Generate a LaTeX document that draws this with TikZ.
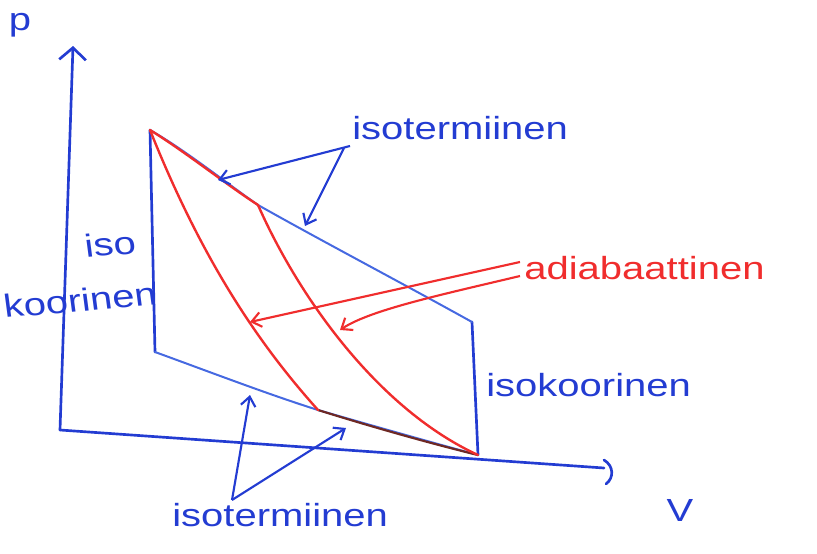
\documentclass[tikz,border=0pt]{standalone}
\usepackage{fontspec}
\setmainfont{Liberation Sans}
\usetikzlibrary{arrows.meta,calc}
\definecolor{pen}{RGB}{35,60,210}
\definecolor{penl}{RGB}{70,105,225}
\definecolor{redpen}{RGB}{240,45,45}
\definecolor{darkred}{RGB}{110,40,35}
\begin{document}
\begin{tikzpicture}[x=0.75pt,y=-0.75pt,
  axisline/.style={pen,line width=2pt,line cap=round},
  isoline/.style={penl,line width=1.5pt,line cap=round},
  adialine/.style={redpen,line width=1.8pt,line cap=round},
  lbl/.style={pen,inner sep=0pt,font=\fontsize{24}{24}\selectfont,xscale=1.25},
  rlbl/.style={lbl,redpen},
  barb/.style={-{Straight Barb[length=7pt,width=11pt,line width=1.6pt]}},
  bluearrow/.style={pen,line width=1.6pt,barb},
  redarrow/.style={redpen,line width=1.6pt,barb}]
\useasboundingbox (0,0) rectangle (817,553);
% key points
\coordinate (O) at (60,430);
\coordinate (Ytop) at (73,46);
\coordinate (Xend) at (604,468);
\coordinate (A) at (150,130);
\coordinate (B) at (258,205);
\coordinate (C) at (472,322);
\coordinate (D) at (478,455);
\coordinate (E) at (155,352);
\coordinate (F) at (318,410);
% axes
\draw[axisline,-{Straight Barb[length=9pt,width=20pt,line width=2pt]}] (O) -- (Ytop);
\draw[axisline] (O) -- (Xend);
\coordinate (Xa) at (604,460);
\coordinate (Xb) at (606,484);
\draw[axisline] (Xa) .. controls (614,466) and (614,478) .. (Xb);
\node[lbl] (plbl) at (20,25) {p};
\node[lbl] (vlbl) at (680,510) {V};
% isochores
\draw[axisline] (A) -- (E);
\draw[axisline] (C) -- (D);
% upper isotherm
\draw[isoline] (A) .. controls (185,150) and (225,182) .. (B);
\draw[isoline] (B) .. controls (320,240) and (400,282) .. (C);
\draw[adialine,yshift=-1.2pt] (A) .. controls (185,150) and (225,182) .. (B);
% lower isotherm
\draw[isoline] (E) .. controls (210,372) and (270,395) .. (F);
\draw[isoline] (F) .. controls (370,425) and (430,442) .. (D);
\draw[darkred,line width=1.6pt,yshift=-1pt] (F) .. controls (370,425) and (430,442) .. (D);
% adiabats
\draw[adialine] (A) .. controls (200,255) and (255,340) .. (F);
\draw[adialine] (B) .. controls (300,300) and (380,410) .. (D);
% labels
\node[lbl,anchor=west] (tiso) at (352,128) {isotermiinen};
\node[rlbl,anchor=west] (adia) at (524,268) {adiabaattinen};
\node[lbl,anchor=west] (rkoor) at (486,385) {isokoorinen};
\node[lbl,anchor=west] (biso) at (172,515) {isotermiinen};
\node[lbl,rotate=6] (liso) at (110,244) {iso};
\node[lbl,rotate=6] (lkoor) at (80,300) {koorinen};
% arrows
\coordinate (t1) at (218,180);
\coordinate (t2) at (305,226);
\draw[bluearrow] ([shift={(-2,18)}]tiso.west) -- (t1);
\draw[bluearrow] ([shift={(-8,20)}]tiso.west) -- (t2);
\coordinate (a1) at (250,322);
\coordinate (a2) at (340,330);
\draw[redarrow] ([shift={(-4,-6)}]adia.west) -- (a1);
\draw[redarrow] ([shift={(-4,8)}]adia.west) .. controls (440,295) and (370,310) .. (a2);
\coordinate (b1) at (250,395);
\coordinate (b2) at (346,428);
\coordinate (bs) at (232,500);
\draw[bluearrow] (bs) -- (b1);
\draw[bluearrow] (bs) -- (b2);
\end{tikzpicture}
\end{document}
